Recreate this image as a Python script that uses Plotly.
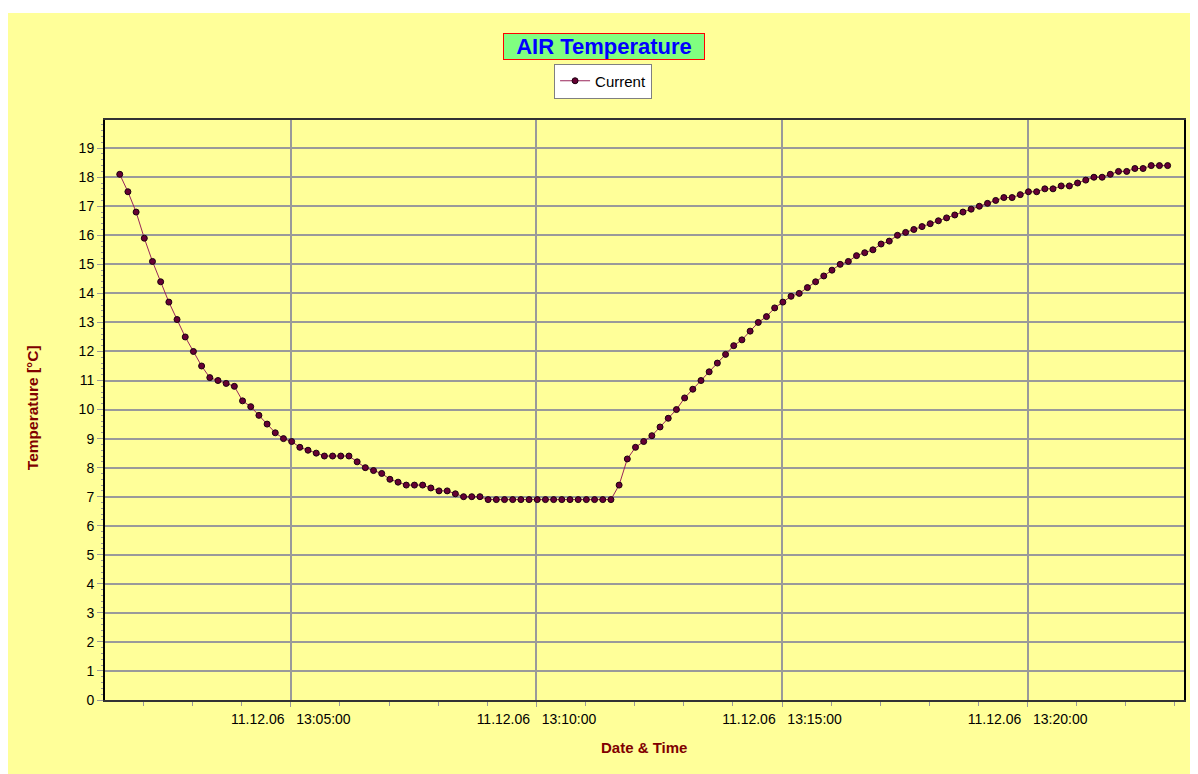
import pandas as pd
import plotly.graph_objects as go

# ---- data ----
start_time = "2006-12-11 13:01:31"
sample_interval = "10s"
temperature = [
    18.1, 17.5, 16.8, 15.9, 15.1, 14.4, 13.7, 13.1, 12.5, 12.0, 11.5, 11.1, 11.0, 10.9, 10.8,
    10.3, 10.1, 9.8, 9.5, 9.2, 9.0, 8.9,
    8.7, 8.6, 8.5, 8.4, 8.4, 8.4, 8.4, 8.2, 8.0, 7.9, 7.8, 7.6, 7.5, 7.4, 7.4, 7.4, 7.3, 7.2,
    7.2, 7.1, 7.0, 7.0, 7.0,
    6.9, 6.9, 6.9, 6.9, 6.9, 6.9, 6.9, 6.9, 6.9, 6.9, 6.9, 6.9, 6.9, 6.9, 6.9, 6.9,
    7.4, 8.3, 8.7, 8.9, 9.1, 9.4, 9.7, 10.0, 10.4, 10.7, 11.0, 11.3, 11.6, 11.9, 12.2, 12.4,
    12.7, 13.0, 13.2, 13.5, 13.7, 13.9,
    14.0, 14.2, 14.4, 14.6, 14.8, 15.0, 15.1, 15.3, 15.4, 15.5, 15.7, 15.8, 16.0, 16.1, 16.2,
    16.3, 16.4, 16.5, 16.6, 16.7, 16.8, 16.9, 17.0, 17.1, 17.2, 17.3, 17.3, 17.4, 17.5, 17.5,
    17.6, 17.6, 17.7, 17.7, 17.8, 17.9, 18.0, 18.0, 18.1, 18.2, 18.2, 18.3, 18.3, 18.4, 18.4,
    18.4,
]
times = pd.date_range(start=start_time, periods=len(temperature), freq=sample_interval)

SEP = "\u00a0\u00a0\u00a0"
x_tick_vals = ["2006-12-11 13:05:00", "2006-12-11 13:10:00",
               "2006-12-11 13:15:00", "2006-12-11 13:20:00"]
x_tick_text = ["11.12.06" + SEP + "13:05:00", "11.12.06" + SEP + "13:10:00",
               "11.12.06" + SEP + "13:15:00", "11.12.06" + SEP + "13:20:00"]
x_range = ["2006-12-11 13:01:13", "2006-12-11 13:23:11"]
y_tick_vals = list(range(0, 20))
y_range = [0, 19.97]

series_name = "Current"
title_text = "AIR Temperature"
x_title = "Date & Time"
y_title = "Temperature [°C]"

# ---- layout geometry (page has an 8px body margin) ----
OFF = 8
W, H = 1190, 766
ML, MR, MT, MB = 97, 12, 112, 74
PW, PH = W - ML - MR, H - MT - MB


def px_x(p):  # reference-screen x -> paper x
    return (p - OFF - ML) / PW


def px_y(p):  # reference-screen y -> paper y
    return (H - MB - (p - OFF)) / PH


YELLOW = "#FFFF99"
FONT = "Liberation Sans, Arial, sans-serif"
NB = "\u00a0\u00a0"
GRID = "#9a9a9a"

fig = go.Figure()
fig.add_trace(go.Scatter(
    x=times, y=temperature, name=series_name, mode="lines+markers",
    line=dict(color="#99245A", width=1),
    marker=dict(color="#660033", size=6, line=dict(color="#1a0010", width=1)),
))

fig.update_layout(
    width=W, height=H,
    margin=dict(l=ML, r=MR, t=MT, b=MB, pad=0),
    paper_bgcolor=YELLOW, plot_bgcolor=YELLOW,
    font=dict(family=FONT, size=14, color="#000000"),
    showlegend=True,
    legend=dict(
        x=px_x(604), y=px_y(81), xanchor="center", yanchor="middle",
        bgcolor="#FFFFFF", bordercolor="#808080", borderwidth=1,
        font=dict(family=FONT, size=15, color="#000000"),
        itemwidth=30, tracegroupgap=0,
    ),
    xaxis=dict(
        type="date", range=x_range,
        tickmode="array", tickvals=x_tick_vals, ticktext=x_tick_text,
        showgrid=True, gridcolor=GRID, gridwidth=1.5,
        ticks="outside", ticklen=5, tickcolor=GRID,
        minor=dict(dtick=60000, ticks="outside", ticklen=4, tickcolor=GRID, showgrid=False),
        showline=True, linecolor="#333333", linewidth=2, mirror=True,
        zeroline=False, tickfont=dict(family=FONT, size=14, color="#000000"),
    ),
    yaxis=dict(
        range=y_range, tickmode="array", tickvals=y_tick_vals,
        showgrid=True, gridcolor=GRID, gridwidth=1.5,
        ticks="outside", ticklen=6, tickcolor=GRID,
        minor=dict(dtick=0.2, ticks="outside", ticklen=2, tickcolor=GRID, showgrid=False),
        showline=True, linecolor="#000000", linewidth=2, mirror=True,
        zeroline=False, tickfont=dict(family=FONT, size=14, color="#000000"),
    ),
    annotations=[
        dict(text="<b>" + NB + title_text + NB + "</b>", xref="paper", yref="paper",
             x=px_x(604.5), y=px_y(46), xanchor="center", yanchor="middle", showarrow=False,
             font=dict(family=FONT, size=22, color="#0000FF"),
             bgcolor="#80FF80", bordercolor="#FF0000", borderwidth=1, borderpad=0),
        dict(text="<b>" + x_title + "</b>", xref="paper", yref="paper",
             x=px_x(645), y=px_y(747), xanchor="center", yanchor="middle", showarrow=False,
             font=dict(family=FONT, size=15, color="#800000")),
        dict(text="<b>" + y_title + "</b>", xref="paper", yref="paper",
             x=px_x(32), y=px_y(408), xanchor="center", yanchor="middle", showarrow=False,
             textangle=-90, font=dict(family=FONT, size=15.5, color="#800000")),
    ],
    shapes=[
        dict(type="rect", xref="paper", yref="paper", layer="above",
             x0=px_x(0), x1=px_x(W + 20), y0=px_y(13), y1=px_y(-5),
             fillcolor="#FFFFFF", line=dict(width=0)),
    ],
)

fig.write_html("out.html")
